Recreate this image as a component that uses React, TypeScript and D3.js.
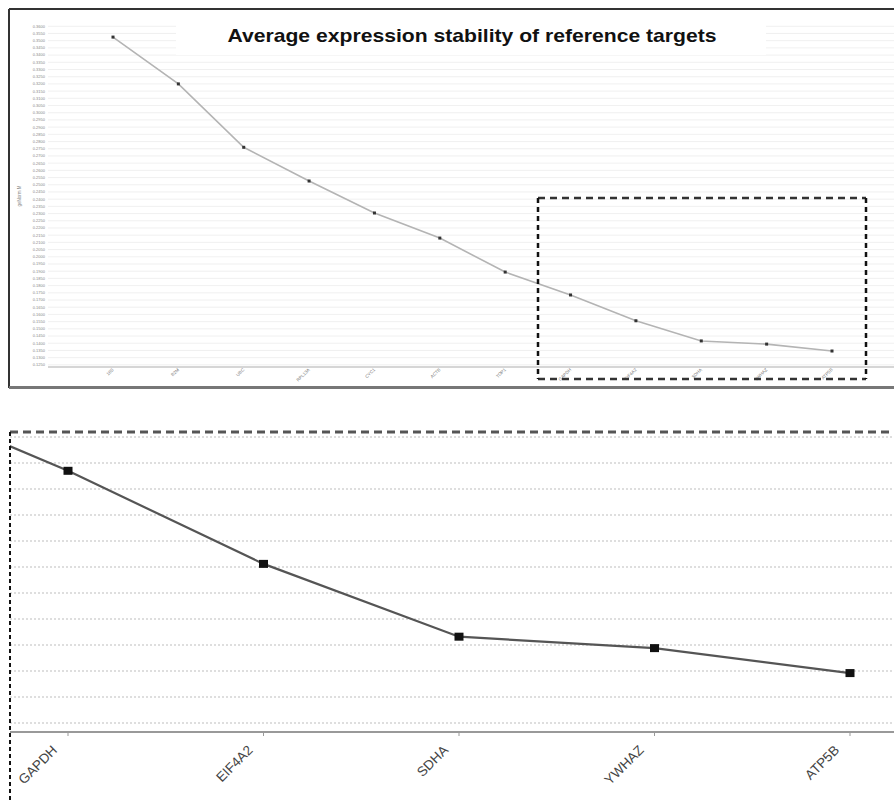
import React from 'react'
import * as d3 from 'd3'

// gene order as ranked by geNorm (least stable -> most stable)
const genes = ['18S', 'B2M', 'UBC', 'RPL13A', 'CYC1', 'ACTB', 'TOP1', 'GAPDH', 'EIF4A2', 'SDHA', 'YWHAZ', 'ATP5B']
// average expression stability M after stepwise exclusion
const mValues = [0.3525, 0.32, 0.276, 0.2526, 0.2304, 0.213, 0.1894, 0.1735, 0.1556, 0.1416, 0.1394, 0.1346]
const zoomGenes = ['GAPDH', 'EIF4A2', 'SDHA', 'YWHAZ', 'ATP5B']
const topTicks = d3.range(0.125, 0.3601, 0.005)
const zoomTicks = d3.range(0.125, 0.1801, 0.005)

const W = 894
const H = 800

export default function App() {
    const data = genes.map((g, i) => ({ gene: g, m: mValues[i] }))

    // top (overview) panel scales
    const x1 = d3.scalePoint<string>().domain(genes).range([113, 832])
    const y1 = d3.scaleLinear().domain([0.1242, 0.3595]).range([366, 27])
    const line1 = d3.line<{ gene: string, m: number }>()
        .x(d => x1(d.gene) as number)
        .y(d => y1(d.m))

    // bottom (zoomed) panel scales, same genes but stretched
    const step = 195.5
    const x2 = d3.scalePoint<string>().domain(genes).range([68 - 7 * step, 68 + 4 * step])
    const y2 = d3.scaleLinear().domain([0.125, 0.18]).range([723, 437])
    const line2 = d3.line<{ gene: string, m: number }>()
        .x(d => x2(d.gene) as number)
        .y(d => y2(d.m))

    const font = 'Liberation Sans, Arial, sans-serif'

    return (
        <div style={{ position: 'absolute', left: 0, top: 0 }}>
            <svg width={W} height={H} style={{ display: 'block', background: '#fff' }}>
                <defs>
                    <clipPath id="zoomClip">
                        <rect x={10} y={433} width={W - 10} height={299} />
                    </clipPath>
                </defs>

                {/* ---------- top panel ---------- */}
                <rect x={48} y={18} width={W - 48} height={348} fill="#fff" />
                {topTicks.map(t => (
                    <g key={'g' + t}>
                        <line x1={48} x2={W} y1={y1(t)} y2={y1(t)} stroke="#ececec" strokeWidth={0.8} />
                        <text x={45} y={y1(t) + 1.4} fontSize={4} textAnchor="end" fill="#888" fontFamily={font}>
                            {d3.format('.4f')(t)}
                        </text>
                    </g>
                ))}
                <line x1={48} x2={W} y1={367} y2={367} stroke="#d6d6d6" strokeWidth={2} />
                <text transform="translate(21,196) rotate(-90)" fontSize={4.5} fill="#888" textAnchor="middle" fontFamily={font}>geNorm M</text>

                <rect x={176} y={19} width={590} height={36} fill="#fff" />
                <text x={472} y={42} textAnchor="middle" fontSize={19} fontWeight="bold" fill="#111"
                    fontFamily={font} textLength={489} lengthAdjust="spacingAndGlyphs">
                    Average expression stability of reference targets
                </text>

                <path d={line1(data) as string} fill="none" stroke="#b4b4b4" strokeWidth={1.6} />
                {data.map(d => (
                    <rect key={'p1' + d.gene} x={(x1(d.gene) as number) - 1.5} y={y1(d.m) - 1.5}
                        width={3} height={3} fill="#333" />
                ))}
                {genes.map(g => (
                    <text key={'l1' + g} transform={`translate(${(x1(g) as number) + 1},370) rotate(-45)`}
                        fontSize={4.5} fill="#777" textAnchor="end" fontFamily={font}>{g}</text>
                ))}

                {/* zoom selection */}
                <line x1={538} x2={866} y1={198} y2={198} stroke="#333" strokeWidth={2.5} strokeDasharray="7,5" />
                <line x1={538} x2={866} y1={379} y2={379} stroke="#333" strokeWidth={2.5} strokeDasharray="7,5" />
                <line x1={538} x2={538} y1={198} y2={379} stroke="#111" strokeWidth={2.5} strokeDasharray="5,4" />
                <line x1={866} x2={866} y1={198} y2={379} stroke="#111" strokeWidth={2.5} strokeDasharray="5,4" />

                {/* frame */}
                <line x1={9} x2={W} y1={9} y2={9} stroke="#333" strokeWidth={2} />
                <line x1={9} x2={9} y1={9} y2={388} stroke="#333" strokeWidth={2} />
                <line x1={9} x2={W} y1={387.5} y2={387.5} stroke="#777" strokeWidth={3} />

                {/* ---------- bottom panel ---------- */}
                {zoomTicks.map(t => (
                    <line key={'z' + t} x1={10} x2={W} y1={y2(t)} y2={y2(t)}
                        stroke="#bdbdbd" strokeWidth={1.2} strokeDasharray="2,2" />
                ))}
                <line x1={10} x2={W} y1={732} y2={732} stroke="#999" strokeWidth={2} />
                {zoomGenes.map(g => (
                    <g key={'l2' + g}>
                        <line x1={x2(g) as number} x2={x2(g) as number} y1={732} y2={736} stroke="#999" strokeWidth={1} />
                        <text transform={`translate(${(x2(g) as number) - 10},751) rotate(-45)`}
                            fontSize={13.5} fill="#444" textAnchor="end" fontFamily={font}>{g}</text>
                    </g>
                ))}
                <g clipPath="url(#zoomClip)">
                    <path d={line2(data) as string} fill="none" stroke="#555" strokeWidth={2.2} />
                    {data.map(d => (
                        <rect key={'p2' + d.gene} x={(x2(d.gene) as number) - 4.5} y={y2(d.m) - 4}
                            width={9} height={8} fill="#111" />
                    ))}
                </g>
                <line x1={10} x2={W} y1={432} y2={432} stroke="#555" strokeWidth={3} strokeDasharray="8,5" />
                <line x1={10} x2={10} y1={432} y2={H} stroke="#111" strokeWidth={2} strokeDasharray="4,3" />
            </svg>
        </div>
    )
}
